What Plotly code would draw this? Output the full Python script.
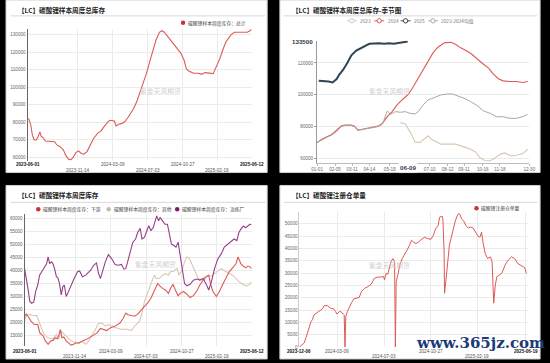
import plotly.graph_objects as go
import pandas as pd

# ---------------- data ----------------
# Chart 1: 碳酸锂样本周度总库存 (total)
total_start = "2023-06-01"
total_day = [0,5,11,16,22,29,35,41,45,52,59,70,90,97,108,119,126,135,143,151,
             160,169,178,187,197,208,219,232,243,253,264,273,280,288,293,302,311,321,334,351,
             361,377,394,410,426,437,445,453,464,475,491,507,518,526,534,550,566,577,588,604,
             615,626,636,647,658,674,685,701,717,728,737,742]
total_value = [82400,81600,78250,72600,69800,69800,71700,74500,72000,71100,
               69200,69200,68850,67000,66000,64100,61300,58900,58500,59800,
               62600,63600,62100,61700,63200,67000,70700,73600,74900,77300,
               79800,81100,81100,80700,77900,78800,79200,80100,83000,87700,
               91400,99000,108000,117800,127200,131500,132400,131500,129100,127200,
               123400,119700,115900,110600,109300,108000,108000,107400,108400,108200,
               107800,112100,115900,121500,126200,130000,131500,131500,131500,131500,
               132400,133200]
date_ticks_1 = ["2023-06-01","2023-11-14","2024-03-09","2024-07-03","2024-10-27","2025-02-19","2025-06-12"]

# Chart 2: seasonal (week number of year)
season_names = ["2023", "2024", "2025", "2023-2024均值"]
week_2023 = [20.4,21.6,22.8,24,25.2,26,27.2,28,29.2,30.4,32,34,36,37.6,38.8,40,41.2,42.4,43.6,44.8,46,46.8,47.6,48.8,50.4,51.6]
val_2023 = [82700,81700,76800,70500,70100,71600,74300,72200,70900,69100,69100,69100,67400,65900,64200,60400,58700,58700,60400,62700,63600,62700,61700,62100,63200,65900]
week_2024 = [0,1.2,2.4,3.6,4.8,6,7,8.4,9.2,10,10.8,12,13.6,15,16,17.2,18.4,19.6,20.8,22.4,23.6,24.8,26,27.2,28.4,29.6,31.2,32.8,34,35.2,36.8,38,39.2,40.4,42,43.2,44.4,45.6,47.2,48.8,50.4,51.6]
val_2024 = [70100,72200,73700,75200,77900,80600,81000,81000,80400,77900,
            78300,78900,79800,80400,82100,86300,89500,93700,96800,100400,
            105300,110500,115800,121000,126300,129900,132600,133000,131600,129500,
            127400,125300,122500,120000,116800,113000,110100,108800,108400,108400,
            107800,108400]
week_2025 = [0.4,1.6,2.8,3.8,4.8,5.4,6.4,7.4,8.4,9.6,10.8,12,12.8,14,15.2,16.4,17.6,18.8,20,21.2,22.2]
val_2025 = [108800,108800,108400,107800,109900,112600,115800,120000,124800,127800,129500,131100,132000,132200,132400,132000,132400,132000,132600,133000,133500]
week_avg = [0,1.2,2.4,3.6,4.8,6,7,8.4,9.2,10,10.8,12,13.6,15,16,17.2,18,19.2,20.4,21.6,22.8,24,24.8,26,27.2,28.8,30.4,32,33.2,34.4,36,37.6,39.2,40.8,42.4,44,45.6,47.2,48.8,50.4,51.6]
val_avg = [70100,72000,73400,74800,77000,80300,80800,80800,80000,77700,
           78100,78800,79600,80200,81500,89900,87800,89500,89100,89500,
           88400,88000,89500,93700,96800,98300,100000,100600,100600,99400,
           97900,95800,93300,89900,88400,86300,86300,85300,85300,86300,87800]
season_tick_week = [0,4.4,8.6,12.8,17.8,27.6,32,36,40.6,44.8,52]
season_tick_label = ["01-01","02-05","03-11","04-14","05-19","07-10","08-12","09-11","10-16","11-18","12-30"]
pointer_value = "133500"
pointer_date = "06-09"

# Chart 3: 下游 / 其他 / 冶炼厂
split_start = "2023-06-01"
split_names = ["碳酸锂样本周度库存：下游", "碳酸锂样本周度库存：其他", "碳酸锂样本周度库存：冶炼厂"]
down_day = [0,5,13,21,32,43,50,61,68,77,85,93,100,107,112,117,122,128,136,143,
            152,160,168,178,189,203,216,226,237,248,258,269,280,296,312,322,331,338,349,360,
            370,381,392,402,413,424,435,442,451,461,470,477,485,493,502,509,520,531,541,552,
            563,573,584,595,602,609,616,627,637,648,659,669,680,691,698,707,715,723,730,737,742]
down_val = [22400,23200,22000,20500,19200,19200,16000,14800,12900,11600,
            12900,13100,14100,13700,15100,17300,14100,14400,12900,12200,
            11300,11600,12200,12000,12900,13500,14400,15400,16000,17700,
            17300,16900,17900,18600,19800,21500,23600,23000,22700,22400,
            23200,24900,26200,27400,29300,32100,35000,34100,33100,32500,
            31200,33100,34700,32500,30300,31200,31900,30800,29600,30300,
            32100,34400,36300,37600,38200,34400,31900,30000,31900,34700,
            37200,39500,41000,42600,45200,42600,41700,41000,41700,41400,40700]
other_day = [0,7,18,29,40,50,61,72,82,93,104,111,120,130,141,152,162,173,189,200,
             210,221,232,242,253,264,274,285,301,317,333,349,360,376,384,392,402,413,424,431,
             440,451,461,470,477,488,499,504,515,523,531,538,547,557,568,579,590,600,611,621,
             632,643,651,664,680,696,712,726,733,742]
other_val = [20500,23000,23000,22600,22700,19200,16000,14400,13900,13700,
             15400,13500,16700,15400,14100,12900,12500,12200,12600,11600,
             12900,15400,17700,19600,19800,18600,19200,18600,17900,17300,
             17500,16900,18600,20500,23600,28100,31200,34700,38200,36900,
             36900,38200,38800,38200,39500,39700,41000,38200,40100,43300,
             45200,44800,42600,39500,36900,36300,37600,37900,37900,38800,
             39700,40700,40100,39200,38200,36300,34700,34100,34400,35700]
smelter_day = [0,4,11,17,23,30,36,43,49,56,64,72,77,82,88,93,98,104,109,114,
               120,125,130,136,141,152,162,173,180,189,200,216,226,235,242,248,256,264,274,285,
               296,306,317,325,331,338,346,354,363,370,378,384,392,399,406,413,421,427,432,438,
               443,451,459,467,474,480,488,495,502,509,515,523,531,541,552,563,573,584,595,602,
               611,621,632,643,653,664,675,685,694,701,709,715,723,730,737,742]
smelter_val = [40700,38200,33100,28100,27400,27800,31900,34400,38200,39500,
               41000,42600,45200,42600,43300,42600,40700,37600,37200,35000,
               30600,33800,34400,30000,31200,34400,36900,39500,39800,37600,
               38200,40100,42000,42900,38800,36900,40100,43300,46100,44500,
               42300,42000,42300,40500,40700,43500,47300,50900,52100,54700,
               56200,52100,52800,54700,57200,55300,56600,59100,61000,59100,
               60400,59100,57800,57800,54000,50200,49600,49000,50900,45800,
               40700,35000,34100,34700,36300,36700,36300,36900,34400,32500,
               35700,40700,44500,46400,49000,50200,51100,52100,51500,54700,
               56200,57000,56500,57000,57800,57500]

# Chart 4: 碳酸锂注册仓单量
receipt_start = "2023-12-06"
receipt_name = "碳酸锂注册仓单量"
receipt_day = [0,6,12,16,20,24,28,32,36,43,49,57,61,69,77,85,89,93,100,105,
               109,111,113,115,119,124,130,135,142,148,154,162,170,178,186,194,202,209,211,215,
               219,223,227,232,236,238,240,245,249,255,261,267,273,278,283,289,295,302,310,318,
               326,332,338,344,348,354,356,359,360,364,368,372,376,380,386,391,395,399,402,407,
               413,419,425,431,437,443,448,452,456,461,467,474,478,480,482,486,490,496,502,510,
               518,526,534,542,550,559,563]
receipt_val = [0,800,1700,3800,6400,7800,10200,11100,13100,13800,
               14500,15500,16800,16800,15800,15500,14500,13400,14500,14100,
               13400,13100,0,12500,14500,16500,18200,19600,19800,20100,
               22500,23900,24500,25500,27900,28400,28400,28600,27200,29900,
               29500,31900,34600,35900,34600,0,26500,29900,33200,35900,
               37500,39300,41300,43300,42600,42000,42600,43700,44600,44000,
               43700,45300,48000,49300,52700,53100,52000,38600,21800,27900,
               35900,41300,44000,47300,50700,53100,54300,53600,52000,51300,
               49300,48300,48700,48300,46600,45000,44600,46600,42000,37900,
               35900,36600,34600,26500,17800,25200,28600,29200,29900,33200,
               35300,36600,35900,33900,33000,32200,29900]
date_ticks_4 = ["2023-12-06","2024-03-09","2024-07-03","2024-10-27","2025-02-19","2025-06-19"]

titles = ["【LC】碳酸锂样本周度总库存", "【LC】碳酸锂样本周度总库存-季节图",
          "【LC】碳酸锂样本周度库存", "【LC】碳酸锂注册仓单量"]
total_name = "碳酸锂样本周度库存：总计"
watermark = "紫金天风期货"
site_mark = "www.365jz.com"

# ---------------- helpers ----------------
W, H = 550, 363
def X(p): return p / W
def Y(p): return 1 - p / H
def to_dates(start, days):
    return pd.Timestamp(start) + pd.to_timedelta(days, unit="D")

RED = "#dc5a55"
TAN = "#d8c8b4"
NAVY = "#2f4554"
GREY = "#a8a8a8"
PURPLE = "#973d8c"
NUMF = "Liberation Sans, Arial, sans-serif"
CJK = "Noto Sans CJK SC, sans-serif"
TICKC = "#666666"
grid = "#ebebeb"

fig = go.Figure()

# Chart 1
fig.add_trace(go.Scatter(x=to_dates(total_start, total_day), y=total_value, mode="lines",
                         line=dict(color=RED, width=1.1), xaxis="x", yaxis="y", showlegend=False))
# Chart 2
for wk, vals, col, wd in [(week_2023, val_2023, TAN, 1.1), (week_2024, val_2024, RED, 1.1),
                          (week_avg, val_avg, GREY, 1.0), (week_2025, val_2025, NAVY, 2.0)]:
    fig.add_trace(go.Scatter(x=wk, y=vals, mode="lines", line=dict(color=col, width=wd),
                             xaxis="x2", yaxis="y2", showlegend=False))
# Chart 3
for d, v, col in [(other_day, other_val, TAN), (down_day, down_val, RED), (smelter_day, smelter_val, PURPLE)]:
    fig.add_trace(go.Scatter(x=to_dates(split_start, d), y=v, mode="lines",
                             line=dict(color=col, width=1.1), xaxis="x3", yaxis="y3", showlegend=False))
# Chart 4
fig.add_trace(go.Scatter(x=to_dates(receipt_start, receipt_day), y=receipt_val, mode="lines",
                         line=dict(color=RED, width=1.0), xaxis="x4", yaxis="y4", showlegend=False))

tickfont = dict(size=4.6, color=TICKC, family=NUMF)

def ynum(**kw):
    d = dict(showgrid=True, gridcolor=grid, zeroline=False, showline=True, linewidth=1,
             tickfont=tickfont, ticks="", exponentformat="none", tickformat="d")
    d.update(kw)
    return d

def xdate(domain, anchor, rng, vals):
    return dict(domain=domain, anchor=anchor, type="date", range=rng, tickmode="array",
                tickvals=vals, showticklabels=False, showgrid=True, gridcolor=grid,
                zeroline=False, showline=False, ticks="")

r1 = [total_start, "2025-06-12"]
r3 = [split_start, "2025-06-12"]
r4 = [receipt_start, "2025-06-26"]

layout = dict(
    width=W, height=H, margin=dict(l=0, r=0, t=0, b=0),
    paper_bgcolor="black", plot_bgcolor="rgba(0,0,0,0)", showlegend=False,
    xaxis=xdate([X(22), X(251)], "y", r1, date_ticks_1),
    yaxis=ynum(domain=[Y(162), Y(29)], anchor="x", range=[58000, 133500],
               tickvals=list(range(60000, 130001, 10000)), linecolor="#666"),
    xaxis2=dict(domain=[X(318), X(535)], anchor="y2", range=[0, 52], tickmode="array",
                tickvals=season_tick_week, ticktext=season_tick_label, showgrid=False,
                zeroline=False, showline=True, linecolor="#bbbbbb", linewidth=1,
                tickfont=tickfont, ticks="outside", ticklen=2, tickcolor="#bbbbbb"),
    yaxis2=ynum(domain=[Y(164), Y(41)], anchor="x2", range=[57500, 134000],
                tickvals=[60000, 80000, 100000, 120000], linecolor="#999",
                ticks="outside", ticklen=2, tickcolor="#999"),
    xaxis3=xdate([X(19), X(251)], "y3", r3, date_ticks_1),
    yaxis3=ynum(domain=[Y(349), Y(216)], anchor="x3", range=[10900, 61650],
                tickvals=list(range(15000, 60001, 5000)), linecolor="#666"),
    xaxis4=xdate([X(300), X(534)], "y4", r4, date_ticks_4),
    yaxis4=ynum(domain=[Y(350), Y(214)], anchor="x4", range=[0, 54700],
                tickvals=list(range(0, 50001, 5000)), linecolor="#cccccc"),
)

shapes = []
annotations = []
panels = [(0, 0, 267, 174), (280, 0, 546, 174), (0, 187, 267, 362), (280, 187, 546, 362)]
for (x0, y0, x1, y1) in panels:
    shapes.append(dict(type="rect", xref="paper", yref="paper", x0=X(x0), x1=X(x1), y0=Y(y1), y1=Y(y0),
                       fillcolor="white", line=dict(color="#cfcfcf", width=1), layer="below"))
title_pos = [(10, 10, 5, 265, 16), (290, 10, 284, 543, 16), (10, 197, 5, 265, 204), (290, 197, 284, 543, 204)]
for t, (tx, ty, lx0, lx1, ly) in zip(titles, title_pos):
    annotations.append(dict(text="<b>" + t + "</b>", x=X(tx), y=Y(ty), xref="paper", yref="paper",
                            xanchor="left", yanchor="middle", showarrow=False,
                            font=dict(size=6.6, color="#222", family=CJK)))
    shapes.append(dict(type="line", xref="paper", yref="paper", x0=X(lx0), x1=X(lx1), y0=Y(ly), y1=Y(ly),
                       line=dict(color="#d8d8d8", width=1)))

# date axis labels (two staggered rows, first/last bold)
def date_labels(xref, ticks, lower, y_up, y_lo):
    for i, t in enumerate(ticks):
        txt = t
        col = "#555"
        if i == 0 or i == len(ticks) - 1:
            txt = "<b>" + t + "</b>"
            col = "#111"
        annotations.append(dict(text=txt, x=t, xref=xref, y=Y(y_lo if i in lower else y_up), yref="paper",
                                xanchor="center", yanchor="middle", showarrow=False,
                                font=dict(size=4.6, color=col, family=NUMF)))

date_labels("x", date_ticks_1, {1, 3, 5}, 165.8, 171.6)
date_labels("x3", date_ticks_1, {1, 3, 5}, 354.3, 359.4)
date_labels("x4", date_ticks_4, {2, 4}, 354.3, 359.6)

# watermarks
for (wx, wy) in [(135, 85), (415, 85), (130, 273), (415, 274)]:
    annotations.append(dict(text=watermark, x=X(wx), y=Y(wy), xref="paper", yref="paper",
                            showarrow=False, font=dict(size=6.8, color="#d0d0d0", family=CJK)))

def dot_legend(cx, cy, color, text, tx):
    r = 2.3
    shapes.append(dict(type="circle", xref="paper", yref="paper", x0=X(cx - r), x1=X(cx + r),
                       y0=Y(cy + r), y1=Y(cy - r), fillcolor=color, line=dict(color=color, width=0)))
    annotations.append(dict(text=text, x=X(tx), y=Y(cy), xref="paper", yref="paper", xanchor="left",
                            yanchor="middle", showarrow=False, font=dict(size=4.8, color="#444", family=CJK)))

dot_legend(181, 23, "#cc3333", total_name, 184)
for (cx, tx), nm, col in zip([(33, 36), (105, 108), (175, 178)], split_names, ["#cc3333", "#cbbba6", "#7e1d66"]):
    dot_legend(cx, 211, col, nm, tx)
dot_legend(481, 210, "#cc3333", receipt_name, 484)

# seasonal legend (line + hollow circle)
for (cx, tx), nm, col in zip([(353.5, 360), (381.5, 388), (408.5, 415), (436.5, 443)], season_names,
                             [TAN, RED, NAVY, GREY]):
    shapes.append(dict(type="line", xref="paper", yref="paper", x0=X(cx - 5), x1=X(cx + 5),
                       y0=Y(21), y1=Y(21), line=dict(color=col, width=1)))
    shapes.append(dict(type="circle", xref="paper", yref="paper", x0=X(cx - 2.2), x1=X(cx + 2.2),
                       y0=Y(23.2), y1=Y(18.8), fillcolor="white", line=dict(color=col, width=1)))
    annotations.append(dict(text=nm, x=X(tx), y=Y(21), xref="paper", yref="paper", xanchor="left",
                            yanchor="middle", showarrow=False, font=dict(size=4.8, color="#777", family=CJK)))

# axis pointer labels
annotations.append(dict(text="<b>" + pointer_value + "</b>", x=X(316), y=Y(41.7), xref="paper", yref="paper",
                        xanchor="right", yanchor="middle", showarrow=False, bgcolor="white",
                        font=dict(size=6.2, color="#2f3b4a", family=NUMF)))
annotations.append(dict(text="<b>" + pointer_date + "</b>", x=X(411), y=Y(169), xref="paper", yref="paper",
                        xanchor="center", yanchor="middle", showarrow=False, bgcolor="white",
                        font=dict(size=6.2, color="#2f3b4a", family=NUMF)))

# site watermark
annotations.append(dict(text="<b>" + site_mark + "</b>", x=X(485), y=Y(346), xref="paper", yref="paper",
                        xanchor="center", yanchor="middle", showarrow=False,
                        font=dict(size=15, color="#1c3a78", family="DejaVu Serif, serif")))

layout["shapes"] = shapes
layout["annotations"] = annotations
fig.update_layout(**layout)
fig.write_html("out.html", config={"displayModeBar": False},
               post_script="document.body.style.margin='0';document.body.style.background='black';")
